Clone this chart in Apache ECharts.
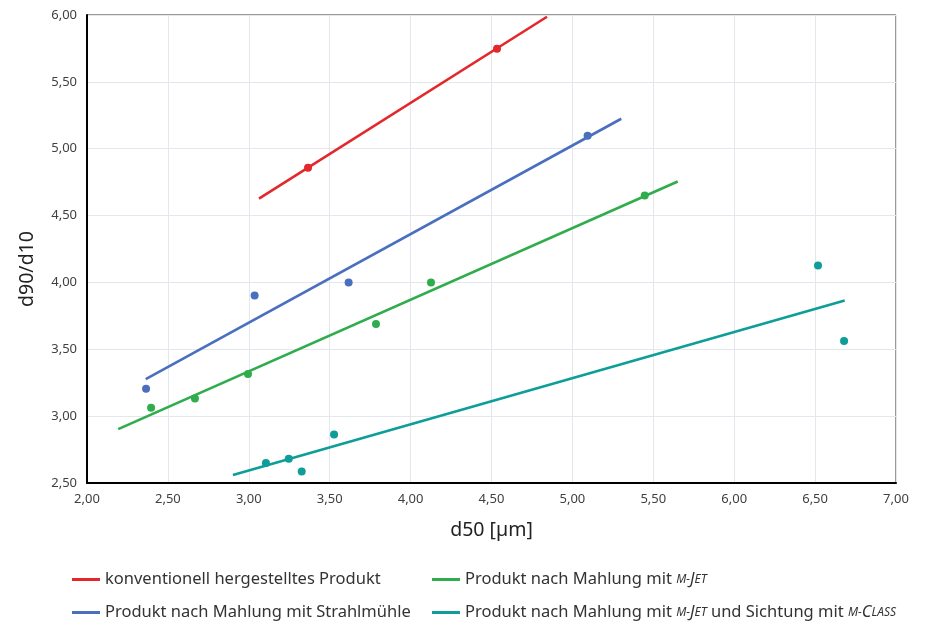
<!DOCTYPE html>
<html>
<head>
<meta charset="utf-8">
<script src="https://cdn.jsdelivr.net/npm/echarts@6/dist/echarts.min.js"></script>
<style>html,body{margin:0;padding:0;background:#fff}#c{width:932px;height:621px}</style>
</head>
<body>
<div id="c"></div>
<script>
// Series names
const names = [
  'konventionell hergestelltes Produkt',
  'Produkt nach Mahlung mit Strahlmühle',
  'Produkt nach Mahlung mit m-Jet',
  'Produkt nach Mahlung mit m-Jet und Sichtung mit m-Class'
];
// Measured points [d50, d90/d10]
const redPoints   = [[3.366, 4.858], [4.534, 5.748]];
const bluePoints  = [[2.365, 3.205], [3.036, 3.903], [3.617, 4.00], [5.094, 5.097]];
const greenPoints = [[2.396, 3.063], [2.667, 3.132], [2.995, 3.315], [3.786, 3.689], [4.126, 4.00], [5.447, 4.651]];
const tealPoints  = [[3.106, 2.649], [3.247, 2.681], [3.327, 2.586], [3.527, 2.863], [6.518, 4.127], [6.679, 3.562]];
// Trend line endpoints
const redTrend   = [[3.063, 4.626], [4.843, 5.987]];
const blueTrend  = [[2.363, 3.277], [5.302, 5.224]];
const greenTrend = [[2.193, 2.903], [5.651, 4.755]];
const tealTrend  = [[2.902, 2.559], [6.683, 3.865]];
const colors = ['#e3272a', '#4a6fbe', '#2fac4c', '#0e9d98'];

const fmt = v => v.toFixed(2).replace('.', ',');
const FONT = 'Noto Sans';

function lineSeries(name, data, color) {
  return { name, type: 'line', data, showSymbol: false, symbol: 'none', silent: true,
    lineStyle: { color, width: 2.6 }, itemStyle: { color }, z: 2 };
}
function scatterSeries(name, data, color) {
  return { name, type: 'scatter', data, symbolSize: 8, itemStyle: { color, opacity: 1 }, z: 3 };
}

const rich = {
  sc: { fontFamily: FONT, fontStyle: 'italic', fontSize: 12, color: '#333' },
  ci: { fontFamily: FONT, fontStyle: 'italic', fontSize: 16.5, color: '#333' },
  n:  { fontFamily: FONT, fontSize: 16.5, color: '#333' }
};
function legendFmt(name) {
  if (name === names[2]) return '{n|Produkt nach Mahlung mit }{sc|M-}{ci|J}{sc|ET}';
  if (name === names[3]) return '{n|Produkt nach Mahlung mit }{sc|M-}{ci|J}{sc|ET}{n| und Sichtung mit }{sc|M-}{ci|C}{sc|LASS}';
  return '{n|' + name + '}';
}
function legendItem(name, left, top) {
  return {
    orient: 'horizontal', left, top, itemWidth: 28, itemHeight: 3, icon: 'rect',
    data: [name], formatter: legendFmt,
    textStyle: { fontFamily: FONT, fontSize: 16.5, color: '#333', rich }
  };
}

const chart = echarts.init(document.getElementById('c'), null, { renderer: 'canvas' });
chart.setOption({
  animation: false,
  backgroundColor: '#fff',
  grid: { left: 87, right: 36, top: 15, bottom: 138, show: true, borderColor: '#333', borderWidth: 1 },
  xAxis: {
    type: 'value', min: 2, max: 7, interval: 0.5,
    name: 'd50 [µm]', nameLocation: 'middle', nameGap: 37,
    nameTextStyle: { fontFamily: FONT, fontSize: 19.5, color: '#222' },
    axisLine: { show: true, lineStyle: { color: '#000', width: 2 } },
    axisTick: { show: false },
    axisLabel: { formatter: fmt, fontFamily: FONT, fontSize: 13, color: '#404040', margin: 10 },
    splitLine: { show: true, lineStyle: { color: '#e4e8ee', width: 1 } }
  },
  yAxis: {
    type: 'value', min: 2.5, max: 6, interval: 0.5,
    name: 'd90/d10', nameLocation: 'middle', nameGap: 50, nameRotate: 90,
    nameTextStyle: { fontFamily: FONT, fontSize: 19.5, color: '#222', padding: [0, 0, 0, -40] },
    axisLine: { show: true, lineStyle: { color: '#000', width: 2 } },
    axisTick: { show: false },
    axisLabel: { formatter: fmt, fontFamily: FONT, fontSize: 13, color: '#404040', margin: 10 },
    splitLine: { show: true, lineStyle: { color: '#e4e8ee', width: 1 } }
  },
  legend: [
    legendItem(names[0], 67, 566),
    legendItem(names[1], 67, 599),
    legendItem(names[2], 427, 566),
    legendItem(names[3], 427, 599)
  ],
  series: [
    lineSeries(names[0], redTrend, colors[0]),
    lineSeries(names[1], blueTrend, colors[1]),
    lineSeries(names[2], greenTrend, colors[2]),
    lineSeries(names[3], tealTrend, colors[3]),
    scatterSeries(names[0], redPoints, colors[0]),
    scatterSeries(names[1], bluePoints, colors[1]),
    scatterSeries(names[2], greenPoints, colors[2]),
    scatterSeries(names[3], tealPoints, colors[3])
  ]
});
</script>
</body>
</html>
